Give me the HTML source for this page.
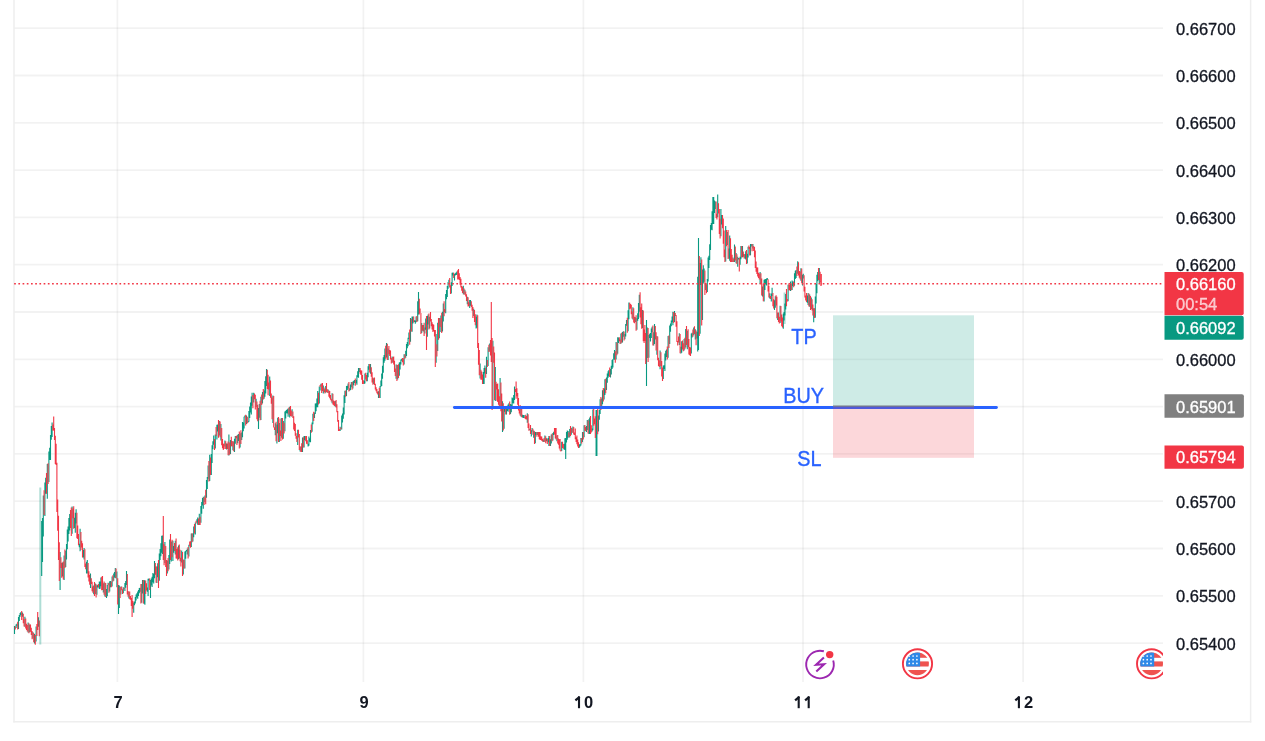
<!DOCTYPE html>
<html><head><meta charset="utf-8"><style>
html,body{margin:0;padding:0;background:#fff;width:1265px;height:741px;overflow:hidden;}
svg{position:absolute;left:0;top:0;display:block;will-change:transform;}
text{font-family:"Liberation Sans",sans-serif;}
</style></head><body>
<svg width="1265" height="741" viewBox="0 0 1265 741">
<g stroke="#000" stroke-opacity="0.052" stroke-width="1.8"><line x1="14" y1="28.20" x2="1163" y2="28.20"/><line x1="14" y1="75.50" x2="1163" y2="75.50"/><line x1="14" y1="122.80" x2="1163" y2="122.80"/><line x1="14" y1="170.10" x2="1163" y2="170.10"/><line x1="14" y1="217.40" x2="1163" y2="217.40"/><line x1="14" y1="264.70" x2="1163" y2="264.70"/><line x1="14" y1="312.00" x2="1163" y2="312.00"/><line x1="14" y1="359.30" x2="1163" y2="359.30"/><line x1="14" y1="406.60" x2="1163" y2="406.60"/><line x1="14" y1="453.90" x2="1163" y2="453.90"/><line x1="14" y1="501.20" x2="1163" y2="501.20"/><line x1="14" y1="548.50" x2="1163" y2="548.50"/><line x1="14" y1="595.80" x2="1163" y2="595.80"/><line x1="14" y1="643.10" x2="1163" y2="643.10"/><line x1="117.4" y1="0" x2="117.4" y2="682"/><line x1="363.4" y1="0" x2="363.4" y2="682"/><line x1="583.4" y1="0" x2="583.4" y2="682"/><line x1="803" y1="0" x2="803" y2="682"/><line x1="1023.1" y1="0" x2="1023.1" y2="682"/></g>
<g stroke="#EEEEEE" stroke-width="1.5"><line x1="14" y1="0" x2="14" y2="722.5"/><line x1="1250.6" y1="0" x2="1250.6" y2="722.5"/><line x1="13.3" y1="721.8" x2="1251.3" y2="721.8"/></g>
<g stroke-width="1.1" fill="none">
<path stroke="#089981" d="M14.50 626.0V634.0M16.10 624.6V628.0M16.90 623.7V625.8M18.50 617.0V629.0M19.30 615.0V621.0M20.10 613.0V616.8M20.90 612.0V615.1M22.50 612.5V616.7M24.90 616.8V626.7M28.10 622.6V632.6M29.70 624.4V632.3M32.90 631.9V638.5M34.50 634.0V643.5M36.10 626.4V641.5M38.50 617.3V626.8M41.70 521.0V576.0M42.50 518.0V562.0M43.30 495.6V536.4M44.90 482.4V516.0M45.70 477.7V493.7M47.30 464.0V498.8M48.90 451.4V481.9M49.70 447.8V460.1M50.50 434.9V460.0M51.30 426.0V439.8M52.10 422.4V436.9M60.10 552.0V590.0M62.50 562.5V576.6M64.10 555.5V579.9M65.70 550.7V567.0M66.50 544.1V559.6M67.30 529.6V549.2M68.10 526.5V541.4M68.90 518.0V534.0M69.70 514.0V530.5M72.10 506.6V533.8M74.50 517.7V528.0M75.30 512.7V532.8M76.10 509.2V523.5M79.30 543.8V547.2M80.10 528.8V551.2M83.30 550.0V557.5M84.10 548.0V559.5M86.50 561.8V573.4M87.30 560.1V573.4M90.50 573.4V588.0M93.70 585.4V594.2M95.30 583.6V594.0M96.90 585.6V594.7M97.70 584.8V587.4M99.30 581.6V589.0M100.10 581.4V588.7M100.90 577.6V586.3M103.30 583.2V592.4M104.90 582.8V596.4M106.50 589.0V598.0M107.30 584.9V596.2M108.10 582.8V585.3M109.70 581.2V591.6M110.50 580.9V587.3M112.10 576.4V586.4M113.70 573.6V580.8M114.50 572.1V577.4M115.30 568.0V578.1M116.90 571.4V587.2M118.50 585.0V614.0M119.30 585.4V607.9M120.90 586.6V594.4M123.30 587.2V593.2M124.90 583.0V590.9M125.70 580.9V587.7M126.50 571.0V584.9M128.90 591.8V598.4M133.70 602.6V612.8M134.50 601.5V605.2M135.30 596.9V603.5M136.10 594.4V600.6M136.90 593.2V597.6M137.70 591.6V598.7M138.50 590.0V595.9M139.30 588.0V593.3M140.10 587.8V591.8M141.70 584.0V602.8M142.50 580.0V593.6M144.10 580.0V603.8M144.90 580.4V604.8M147.30 587.5V591.8M148.10 578.8V596.1M148.90 578.4V580.5M150.50 580.0V598.0M151.30 578.4V585.5M152.10 576.8V587.0M152.90 573.0V582.3M153.70 573.7V583.6M154.50 561.0V578.3M156.90 566.4V582.9M157.70 563.2V577.2M159.30 553.6V580.8M160.10 549.1V560.1M160.90 543.2V556.2M161.70 535.8V552.7M162.50 535.6V554.1M164.90 542.0V563.1M167.30 560.4V573.6M168.90 554.9V569.5M169.70 539.6V564.0M171.30 541.4V561.6M172.90 540.7V561.0M173.70 546.0V552.7M175.30 540.7V554.6M178.50 545.6V559.3M181.70 550.4V562.6M183.30 559.5V574.6M184.90 551.6V568.4M185.70 550.8V558.7M186.50 550.0V551.5M187.30 548.4V554.4M188.90 544.8V556.6M191.30 533.6V547.0M192.90 533.4V541.4M193.70 526.4V537.3M195.30 522.4V534.4M196.90 519.2V522.5M197.70 517.6V524.8M199.30 513.8V524.9M200.90 506.0V522.7M201.70 502.0V513.8M202.50 498.0V505.6M203.30 496.8V508.8M204.90 495.5V501.9M206.50 480.0V497.8M207.30 476.9V489.1M208.10 465.6V478.7M209.70 454.8V481.0M211.30 453.9V474.9M212.10 445.2V463.0M212.90 441.2V449.2M213.70 435.6V444.7M215.30 434.5V448.4M216.90 424.8V439.4M217.70 424.5V431.4M219.30 421.1V435.4M220.90 424.0V440.4M224.90 440.4V446.5M226.50 443.5V449.5M228.90 434.4V455.6M230.50 439.9V454.0M232.90 441.2V450.2M234.50 438.7V452.0M235.30 436.0V443.7M237.70 434.8V443.2M238.50 434.0V440.9M240.10 433.3V447.5M241.70 432.6V440.0M242.50 422.1V437.3M243.30 422.5V431.3M244.10 416.8V428.4M244.90 415.6V417.2M246.50 415.5V424.0M248.10 420.9V422.4M248.90 410.9V421.8M249.70 406.6V417.9M250.50 402.5V412.5M251.30 396.4V414.6M252.10 392.8V405.8M253.70 392.8V402.6M256.10 398.8V406.9M258.50 408.0V429.0M259.30 404.0V417.7M260.90 396.8V420.0M262.50 392.0V403.6M264.10 390.4V398.8M264.90 381.1V396.8M265.70 376.3V393.5M266.50 369.0V386.1M269.70 376.4V396.0M272.90 395.6V423.1M275.30 423.2V435.3M276.90 424.6V443.6M277.70 417.7V433.2M279.30 422.9V442.0M281.70 418.0V437.8M283.30 421.0V438.7M284.90 411.6V431.2M285.70 410.8V418.4M286.50 410.0V413.2M287.30 409.2V413.4M288.10 408.4V416.7M289.70 406.8V417.4M292.10 409.2V416.5M297.70 429.8V445.0M300.10 446.6V451.6M302.50 437.4V452.0M304.10 436.0V447.6M304.90 436.0V439.9M308.10 443.8V446.4M308.90 436.4V445.7M309.70 438.2V441.7M310.50 430.0V442.2M312.10 422.6V431.8M312.90 413.8V424.2M314.50 412.5V418.0M315.30 403.4V413.9M316.10 403.2V411.2M316.90 398.4V407.2M317.70 390.9V407.2M319.30 386.4V403.6M320.90 383.8V390.4M323.30 385.5V393.4M325.70 386.0V392.8M328.10 389.5V393.0M332.10 393.2V403.2M335.30 400.9V406.8M340.10 426.8V431.0M341.70 415.5V429.5M342.50 413.5V422.6M343.30 407.4V418.8M344.10 395.2V414.4M344.90 390.8V403.1M346.50 386.0V396.0M347.30 385.8V390.1M348.10 383.4V388.5M349.70 388.3V390.8M350.50 384.4V390.0M351.30 382.1V387.3M352.90 381.6V388.6M353.70 380.8V385.2M354.50 380.0V383.0M356.10 380.0V383.3M356.90 375.2V384.8M357.70 371.2V377.3M358.50 368.0V377.8M359.30 368.0V371.9M364.10 380.8V384.0M364.90 373.6V383.4M367.30 372.7V381.3M368.10 366.2V377.2M368.90 364.0V369.8M370.50 364.0V373.8M373.70 378.3V384.0M378.50 391.2V398.0M380.10 386.0V398.0M380.90 380.6V386.8M381.70 373.6V386.0M382.50 365.8V378.7M383.30 357.2V372.7M384.10 354.9V362.7M384.90 348.6V360.7M386.50 343.0V357.6M388.10 348.4V360.0M392.10 356.6V362.7M396.10 364.4V378.7M397.70 365.1V379.6M399.30 362.4V375.8M400.10 361.9V369.4M400.90 359.6V364.6M401.70 358.8V360.7M404.10 354.3V364.4M405.70 350.7V357.7M406.50 344.0V356.0M407.30 341.9V348.3M408.10 337.7V346.2M408.90 332.5V339.1M410.50 318.0V341.7M412.10 316.4V331.8M412.90 316.4V323.5M414.50 320.2V321.9M415.30 320.4V323.7M416.10 316.5V322.2M417.70 301.2V321.2M418.50 292.0V314.4M421.70 323.0V332.9M423.30 324.9V331.4M424.90 327.5V333.6M425.70 318.4V329.7M427.30 316.1V336.8M428.10 314.4V324.6M429.70 316.7V328.5M436.10 333.9V362.8M437.70 322.8V351.1M439.30 318.0V338.3M440.90 315.6V332.0M442.50 311.8V331.6M443.30 303.6V321.4M445.70 294.0V313.2M446.50 290.0V299.3M447.30 286.0V297.1M448.10 282.0V288.8M448.90 279.8V282.3M451.30 282.3V293.6M452.10 272.8V286.1M452.90 272.4V275.5M454.50 274.0V280.5M455.30 273.2V275.6M456.10 272.4V274.9M456.90 271.4V274.7M463.30 285.8V294.3M464.90 289.8V294.5M467.30 296.8V304.2M469.70 299.9V307.9M470.50 300.0V305.7M473.70 308.7V315.9M476.10 316.8V328.4M476.90 314.4V327.8M480.10 363.6V378.4M483.30 371.9V384.0M484.10 368.1V384.0M484.90 365.6V373.5M486.50 356.7V373.9M488.10 347.2V366.0M489.70 343.6V351.5M492.90 340.8V408.0M495.30 367.0V401.1M500.10 377.9V406.0M502.50 401.2V432.0M504.10 406.6V428.8M504.90 406.4V411.8M506.50 406.0V414.5M507.30 405.7V411.1M508.10 404.4V411.7M508.90 403.2V409.2M510.50 404.1V413.9M511.30 404.4V412.2M512.10 397.4V408.4M512.90 398.3V403.3M513.70 395.1V403.6M514.50 386.5V400.0M520.90 407.3V416.4M522.50 414.8V417.5M523.30 415.1V418.0M524.10 415.0V418.0M527.30 413.2V422.7M529.70 428.7V430.3M531.30 430.3V436.4M532.10 427.9V431.6M533.70 430.4V437.7M535.30 432.0V443.2M536.10 432.1V435.1M537.70 432.0V435.1M543.30 439.6V442.0M544.90 435.4V441.8M546.50 438.2V441.3M548.10 438.1V442.2M548.90 436.0V446.0M550.50 439.2V446.0M551.30 434.4V443.6M552.90 433.1V440.5M553.70 431.7V435.1M556.90 435.6V441.2M561.70 441.7V450.9M564.10 443.7V449.6M564.90 438.3V450.0M565.70 438.0V459.0M566.50 432.0V442.4M567.30 430.4V439.8M568.10 430.9V437.8M569.70 429.0V437.6M571.30 427.8V434.8M572.90 426.4V432.8M579.30 444.2V447.8M580.10 444.2V446.4M580.90 438.1V445.4M582.50 431.9V442.0M584.10 425.2V437.3M586.50 426.1V432.0M587.30 420.0V430.0M588.90 419.2V434.0M589.70 417.6V434.0M592.10 428.5V431.6M592.90 409.6V430.3M596.10 410.0V456.0M596.90 410.0V456.0M598.50 415.4V431.5M599.30 410.1V419.8M600.10 399.2V414.1M601.70 398.4V408.4M602.50 390.2V404.2M604.10 388.5V399.6M604.90 379.2V395.0M606.50 377.6V390.0M607.30 373.6V382.8M608.10 371.2V377.8M608.90 370.0V376.3M610.50 369.1V377.4M611.30 365.7V374.6M612.10 360.1V369.1M612.90 359.0V367.4M613.70 353.2V359.6M614.50 350.0V359.8M616.10 342.0V359.6M617.70 337.3V353.8M618.50 337.6V343.0M620.90 333.6V343.7M622.50 332.0V342.6M623.30 331.2V336.8M624.90 333.9V339.2M625.70 324.0V336.6M626.50 320.0V325.7M628.10 310.3V331.3M628.90 302.4V319.3M632.90 307.2V319.6M635.30 317.3V322.0M636.90 318.3V329.7M637.70 313.2V320.7M638.50 302.9V318.9M639.30 294.8V311.7M642.50 310.0V327.9M646.50 320.0V386.0M647.30 327.5V358.1M648.90 335.1V357.7M649.70 333.8V338.0M650.50 332.9V341.6M651.30 328.4V338.1M652.10 326.8V332.3M653.70 332.3V345.5M654.50 324.0V344.0M656.90 336.0V354.8M660.10 350.4V369.2M663.30 365.4V379.0M664.10 365.3V368.9M664.90 353.6V370.9M665.70 350.8V360.5M666.50 349.6V357.0M668.10 336.1V357.8M669.70 325.6V344.0M670.50 323.6V331.7M671.30 320.4V326.2M672.10 316.4V322.3M672.90 311.8V325.2M674.50 311.0V322.0M679.30 333.2V344.9M680.90 346.8V353.6M681.70 341.3V352.8M684.10 338.9V350.4M685.70 329.0V347.6M687.30 330.7V349.2M691.30 333.6V353.6M692.10 332.7V337.5M693.70 327.6V335.3M695.30 329.2V339.6M696.90 332.1V338.6M697.70 276.8V351.6M698.50 238.0V350.0M700.10 262.9V333.7M700.90 257.2V285.0M702.50 269.5V320.0M703.30 265.2V283.4M704.10 268.4V281.7M705.70 283.0V290.1M707.30 278.9V292.0M708.10 257.5V281.6M708.90 255.7V268.0M709.70 244.3V260.1M710.50 225.0V250.0M711.30 222.9V229.8M712.10 211.2V230.3M712.90 197.0V224.0M713.70 197.0V224.0M714.50 200.5V212.9M715.30 201.5V209.0M717.70 194.4V217.2M720.90 209.0V236.2M721.70 215.0V224.4M725.70 226.0V261.4M727.30 231.9V245.0M728.90 248.5V258.6M729.70 235.4V260.8M732.90 257.5V262.0M734.50 244.5V262.0M736.10 253.1V263.3M737.70 256.8V266.8M738.50 258.0V259.5M740.10 256.7V264.8M740.90 246.0V259.2M742.50 246.0V257.2M744.90 254.2V258.5M745.70 251.2V259.4M747.30 253.8V263.6M748.10 246.8V257.6M750.50 244.0V255.3M751.30 244.0V246.6M752.90 244.0V248.4M760.10 271.9V284.0M762.50 286.5V296.4M764.10 279.7V301.4M764.90 279.3V290.0M765.70 278.9V284.2M766.50 278.5V285.5M767.30 278.1V280.1M769.70 293.2V298.4M771.30 293.4V301.4M772.10 287.7V295.9M774.50 300.2V309.9M775.30 296.2V307.7M777.70 312.6V319.9M780.10 305.8V323.1M783.30 313.6V328.7M784.10 312.0V320.5M784.90 303.6V315.6M785.70 294.0V309.4M788.10 284.8V301.3M790.50 281.6V291.0M792.10 280.5V289.9M792.90 281.6V286.1M794.50 273.2V285.8M795.30 270.8V279.1M796.10 270.1V278.0M797.70 261.3V273.7M800.90 268.2V280.8M802.50 274.8V285.4M803.30 273.8V278.6M807.30 295.4V302.8M808.10 293.0V304.9M809.70 294.4V306.8M811.30 297.6V309.0M813.70 308.3V322.3M815.30 296.6V317.7M816.10 284.0V303.5M816.90 274.8V293.2M817.70 272.0V281.3M819.30 268.0V283.6"/>
<path stroke="#F23645" d="M15.30 626.4V629.4M17.70 621.8V629.6M21.70 611.0V620.0M23.30 613.7V623.3M24.10 619.3V626.6M25.70 618.4V628.4M26.50 623.7V630.0M27.30 625.0V631.6M28.90 623.2V633.2M30.50 624.6V631.8M31.30 627.8V634.9M32.10 631.0V639.2M33.70 633.0V642.3M35.30 635.1V644.7M36.90 623.9V636.0M37.70 612.0V630.0M39.30 620.5V636.3M44.10 490.3V515.0M46.50 473.1V493.8M48.10 463.2V484.1M52.90 424.6V430.8M53.70 416.4V430.5M54.50 428.0V440.0M55.30 435.8V464.0M56.10 443.7V464.9M56.90 462.8V512.0M57.70 499.6V530.7M58.50 515.7V560.0M59.30 542.3V581.0M60.90 557.3V567.9M61.70 562.7V577.8M63.30 561.6V579.4M64.90 549.5V567.9M70.50 510.0V527.9M71.30 507.6V536.0M72.90 508.6V518.2M73.70 506.3V528.8M76.90 512.8V538.3M77.70 525.4V539.1M78.50 534.0V545.2M80.90 532.0V550.1M81.70 540.8V547.5M82.50 543.3V557.5M84.90 549.2V567.1M85.70 563.5V569.3M88.10 563.1V577.5M88.90 571.2V581.6M89.70 575.0V584.8M91.30 578.2V584.1M92.10 581.7V591.2M92.90 586.4V592.8M94.50 582.0V595.9M96.10 584.2V597.6M98.50 584.0V587.4M101.70 576.8V590.3M102.50 576.0V590.0M104.10 581.4V594.8M105.70 583.0V597.1M108.90 583.0V592.8M111.30 581.5V587.2M112.90 575.2V581.5M116.10 568.5V578.5M117.70 578.2V604.4M120.10 587.0V598.0M121.70 586.6V590.2M122.50 589.2V594.0M124.10 587.8V589.3M127.30 574.1V594.4M128.10 590.9V596.8M129.70 591.6V599.2M130.50 595.9V599.8M131.30 597.9V605.9M132.10 595.0V617.0M132.90 600.9V608.8M140.90 584.0V603.6M143.30 580.0V603.6M145.70 580.4V594.1M146.50 583.3V590.6M149.70 578.5V590.1M155.30 563.1V574.7M156.10 566.6V582.8M158.50 560.0V588.0M163.30 516.0V560.0M164.10 544.3V565.2M165.70 546.0V566.9M166.50 559.9V576.0M168.10 558.1V571.2M170.50 534.0V560.0M172.10 539.8V557.3M174.50 543.1V550.9M176.10 538.4V558.4M176.90 548.9V558.8M177.70 547.2V560.4M179.30 544.4V558.5M180.10 549.7V561.3M180.90 557.7V566.6M182.50 552.0V576.0M184.10 560.0V568.5M188.10 546.9V558.4M189.70 541.5V546.2M190.50 541.2V547.7M192.10 533.3V542.2M194.50 524.0V533.4M196.10 520.8V523.5M198.50 518.5V525.1M200.10 516.8V525.0M204.10 497.2V505.1M205.70 489.7V504.2M208.90 461.1V481.5M210.50 457.4V475.0M214.50 439.0V450.0M216.10 427.1V436.1M218.50 420.0V437.8M220.10 421.6V437.2M221.70 428.0V445.2M222.50 438.9V448.3M223.30 443.8V450.1M224.10 443.6V449.0M225.70 441.3V449.1M227.30 443.5V448.9M228.10 441.6V455.2M229.70 442.6V454.8M231.30 436.8V446.3M232.10 441.1V446.5M233.70 441.4V451.2M236.10 436.0V438.3M236.90 435.6V444.9M239.30 431.6V448.4M240.90 430.3V444.0M245.70 414.8V425.6M247.30 416.7V423.2M252.90 395.0V408.3M254.50 393.4V399.3M255.30 394.8V409.6M256.90 401.6V419.3M257.70 404.8V421.3M260.10 400.7V420.2M261.70 394.4V405.1M263.30 389.1V399.5M267.30 369.8V389.1M268.10 374.8V395.2M268.90 382.4V389.5M270.50 380.5V397.8M271.30 393.6V403.7M272.10 397.6V419.2M273.70 396.0V427.6M274.50 427.3V430.0M276.10 421.8V441.2M278.50 417.0V442.0M280.10 418.4V435.9M280.90 430.4V441.0M282.50 418.0V439.6M284.10 422.8V433.5M288.90 407.6V414.4M290.50 406.0V416.1M291.30 410.6V416.6M292.90 411.5V418.1M293.70 416.3V429.6M294.50 422.8V431.0M295.30 424.0V435.8M296.10 433.3V438.8M296.90 435.9V442.0M298.50 429.8V437.5M299.30 434.0V449.9M300.90 446.5V452.0M301.70 443.2V452.0M303.30 437.2V447.6M305.70 436.0V441.3M306.50 436.0V443.8M307.30 440.3V444.3M311.30 424.4V432.8M313.70 411.8V421.0M318.50 392.8V404.4M320.10 385.1V386.8M321.70 383.4V392.9M322.50 383.0V390.9M324.10 387.5V392.0M324.90 389.2V393.6M326.50 383.0V392.0M327.30 389.3V392.8M328.90 390.6V396.8M329.70 391.0V398.3M330.50 395.0V399.7M331.30 398.7V401.6M332.90 393.8V404.4M333.70 400.6V405.2M334.50 401.3V406.0M336.10 400.1V407.6M336.90 404.2V412.2M337.70 411.1V421.8M338.50 420.0V431.0M339.30 429.1V431.0M340.90 427.5V429.6M345.70 390.6V396.8M348.90 382.0V391.6M352.10 382.1V389.7M355.30 378.4V385.8M360.10 368.0V373.8M360.90 370.3V375.1M361.70 370.5V379.8M362.50 374.9V384.0M363.30 380.2V384.0M365.70 372.8V379.6M366.50 375.0V381.3M369.70 364.0V372.6M371.30 367.2V376.7M372.10 372.2V382.4M372.90 377.4V384.8M374.50 377.6V385.1M375.30 383.7V389.6M376.10 387.2V391.2M376.90 389.1V393.2M377.70 391.4V394.6M379.30 387.7V398.0M385.70 345.8V358.7M387.30 343.8V360.0M388.90 346.0V354.2M389.70 350.1V356.1M390.50 350.6V359.4M391.30 358.0V363.6M392.90 356.9V362.4M393.70 356.6V364.4M394.50 360.8V372.0M395.30 368.5V376.0M396.90 364.7V381.1M398.50 364.3V378.0M402.50 358.0V362.2M403.30 358.2V365.6M404.90 354.3V358.8M409.70 329.4V344.8M411.30 318.7V331.6M413.70 316.6V322.5M416.90 316.1V322.1M419.30 298.8V314.5M420.10 308.5V313.1M420.90 313.0V334.0M422.50 325.1V330.8M424.10 322.7V336.0M426.50 316.0V350.0M428.90 313.6V329.6M430.50 312.0V321.6M431.30 319.0V326.2M432.10 322.3V329.6M432.90 323.9V332.0M433.70 324.7V331.2M434.50 330.0V336.5M435.30 330.0V367.0M436.90 344.3V356.4M438.50 318.0V339.8M440.10 318.0V327.0M441.70 312.8V332.9M444.10 301.2V316.3M444.90 309.1V312.3M449.70 278.0V287.6M450.50 285.3V294.0M453.70 272.7V277.9M457.70 270.2V279.5M458.50 269.0V279.3M459.30 273.2V279.9M460.10 277.0V284.8M460.90 278.8V287.6M461.70 286.0V290.8M462.50 286.7V293.0M464.10 288.4V294.8M465.70 291.6V296.4M466.50 294.3V301.1M468.10 297.2V306.6M468.90 302.3V306.2M471.30 301.2V307.0M472.10 304.8V310.7M472.90 306.9V317.9M474.50 310.0V322.0M475.30 314.3V325.2M477.70 315.2V348.0M478.50 343.1V364.7M479.30 350.1V375.2M480.90 369.8V379.8M481.70 371.5V379.8M482.50 374.4V384.0M485.70 367.8V377.7M487.30 360.0V367.0M488.90 344.7V352.1M490.50 340.0V355.6M491.30 302.0V362.0M492.10 338.0V410.0M493.70 346.4V362.7M494.50 352.5V400.0M496.10 381.8V389.5M496.90 384.0V400.8M497.70 383.6V401.9M498.50 389.2V404.7M499.30 396.2V406.0M500.90 382.4V411.2M501.70 393.5V421.6M503.30 403.2V430.4M505.70 406.0V414.6M509.70 401.6V414.8M515.30 388.9V392.0M516.10 381.6V398.7M516.90 388.2V396.3M517.70 392.9V404.7M518.50 398.0V410.6M519.30 409.3V413.5M520.10 405.0V415.6M521.70 408.8V417.2M524.90 416.8V418.4M525.70 414.7V419.2M526.50 415.9V419.4M528.10 414.3V428.0M528.90 423.5V430.8M530.50 424.9V434.0M532.90 428.8V434.8M534.50 431.3V444.0M536.90 432.0V436.8M538.50 432.0V436.7M539.30 432.0V439.2M540.10 432.0V440.0M540.90 436.2V439.9M541.70 436.5V440.8M542.50 438.7V441.5M544.10 438.0V442.0M545.70 436.2V443.2M547.30 438.9V444.1M549.70 436.0V446.0M552.10 433.7V441.2M554.50 428.0V434.4M555.30 428.0V438.5M556.10 428.0V439.6M557.70 435.0V443.6M558.50 438.6V444.7M559.30 439.3V448.4M560.10 438.9V450.6M560.90 450.1V451.6M562.50 441.8V448.0M563.30 443.9V448.8M568.90 432.3V437.3M570.50 426.1V436.0M572.10 428.5V432.8M573.70 427.1V434.4M574.50 432.5V435.0M575.30 428.4V439.2M576.10 437.3V441.9M576.90 435.5V444.2M577.70 439.6V446.4M578.50 442.2V448.0M581.70 438.1V443.6M583.30 431.9V439.6M584.90 425.1V430.8M585.70 426.9V431.2M588.10 420.6V433.6M590.50 416.0V434.0M591.30 425.2V432.4M593.70 408.8V425.8M594.50 418.4V424.3M595.30 416.3V438.0M597.70 406.4V434.2M600.90 397.1V410.1M603.30 387.9V401.6M605.70 378.8V393.2M609.70 367.6V377.0M615.30 351.2V362.8M616.90 342.6V355.2M619.30 337.3V341.3M620.10 339.5V344.0M621.70 332.8V342.8M624.10 331.5V340.4M627.30 317.8V332.8M629.70 302.8V309.3M630.50 304.0V308.6M631.30 304.8V314.2M632.10 311.4V318.4M633.70 308.3V322.4M634.50 316.7V323.2M636.10 315.2V330.8M640.10 292.3V317.5M640.90 307.2V324.2M641.70 303.6V328.8M643.30 310.4V341.2M644.10 329.6V342.9M644.90 325.0V340.9M645.70 332.9V364.1M648.10 328.0V362.0M652.90 325.6V345.6M655.30 325.9V339.5M656.10 332.2V350.4M657.70 336.6V360.2M658.50 357.7V366.0M659.30 360.2V367.1M660.90 352.2V366.0M661.70 361.1V376.6M662.50 367.5V381.0M667.30 346.4V359.6M668.90 335.4V348.0M673.70 312.0V323.1M675.30 313.0V315.9M676.10 315.1V326.8M676.90 321.2V342.0M677.70 340.9V345.5M678.50 336.4V342.4M680.10 334.1V353.2M682.50 340.6V349.4M683.30 343.3V351.2M684.90 337.8V349.2M686.50 326.0V345.1M688.10 329.2V347.3M688.90 339.0V354.4M689.70 347.0V355.2M690.50 347.5V356.0M692.90 329.6V336.8M694.50 326.3V334.1M696.10 330.5V345.3M699.30 256.0V336.0M701.70 259.6V325.6M704.90 270.4V294.9M706.50 284.3V293.2M716.10 201.6V217.9M716.90 213.8V219.6M718.50 203.3V213.5M719.30 208.9V234.0M720.10 218.8V238.6M722.50 215.0V228.2M723.30 218.5V243.7M724.10 230.6V257.2M724.90 249.5V262.0M726.50 230.0V246.3M728.10 230.0V259.0M730.50 238.2V262.0M731.30 249.1V262.0M732.10 254.7V262.0M733.70 258.5V261.9M735.30 246.5V260.5M736.90 254.2V264.0M739.30 258.0V271.6M741.70 246.0V257.6M743.30 251.4V256.7M744.10 253.9V258.4M746.50 250.0V264.0M748.90 245.6V249.0M749.70 247.0V255.4M752.10 244.0V251.2M753.70 245.9V251.0M754.50 247.0V257.3M755.30 250.4V268.0M756.10 261.5V271.8M756.90 267.3V274.1M757.70 267.4V276.4M758.50 272.8V278.0M759.30 273.4V279.6M760.90 273.3V283.8M761.70 278.4V295.4M763.30 283.5V301.3M768.10 279.2V291.5M768.90 285.8V297.4M770.50 296.0V299.0M772.90 292.9V306.2M773.70 299.2V308.6M776.10 295.2V305.6M776.90 296.8V318.2M778.50 312.6V322.0M779.30 316.8V323.6M780.90 305.9V321.6M781.70 314.4V326.3M782.50 317.6V327.5M786.50 289.0V306.3M787.30 299.1V301.4M788.90 283.2V290.4M789.70 284.8V290.2M791.30 283.5V290.2M793.70 281.5V287.2M796.90 266.6V275.9M798.50 262.3V275.5M799.30 271.0V277.8M800.10 271.4V279.2M801.70 268.6V283.0M804.10 275.3V291.6M804.90 286.7V297.6M805.70 295.6V300.6M806.50 293.0V302.0M808.90 293.4V306.4M810.50 296.0V310.0M812.10 299.2V310.4M812.90 304.4V315.5M814.50 308.2V318.1M818.50 268.0V280.1M820.10 271.8V282.2M820.90 281.4V286.0M821.3 274V285.5"/>
<path stroke="#089981" stroke-opacity="0.33" stroke-width="2" d="M40.3 487.5V644.5M784.6 292.5V324"/>
</g>
<line x1="14.15" y1="283.75" x2="1163" y2="283.75" stroke="#F23645" stroke-width="1.7" stroke-dasharray="1.7 2.5114"/>
<line x1="454.4" y1="407.5" x2="996.4" y2="407.5" stroke="#2962FF" stroke-width="2.9" stroke-linecap="round"/>
<rect x="833" y="315.3" width="141" height="90.8" fill="#089981" fill-opacity="0.2"/>
<rect x="833" y="406.1" width="141" height="51.7" fill="#F23645" fill-opacity="0.2"/>
<line x1="833" y1="406.1" x2="974" y2="406.1" stroke="#787B86" stroke-width="1.4"/>
<g fill="#2962FF" stroke="#2962FF" stroke-width="0.35" font-size="22.8"><text transform="translate(791.3 343.7) scale(0.87 1)">TP</text><text transform="translate(783.3 402.7) scale(0.87 1)">BUY</text><text transform="translate(797.3 465.9) scale(0.87 1)">SL</text></g>
<g fill="#131722" stroke="#131722" stroke-width="0.3" font-size="16.5"><text x="1176" y="34.7">0.66700</text><text x="1176" y="82.0">0.66600</text><text x="1176" y="129.3">0.66500</text><text x="1176" y="176.6">0.66400</text><text x="1176" y="223.9">0.66300</text><text x="1176" y="271.2">0.66200</text><text x="1176" y="365.8">0.66000</text><text x="1176" y="507.7">0.65700</text><text x="1176" y="555.0">0.65600</text><text x="1176" y="602.3">0.65500</text><text x="1176" y="649.6">0.65400</text></g>
<path d="M1164.5 272H1241.7Q1243.7 272 1243.7 274V313.3Q1243.7 315.3 1241.7 315.3H1164.5Z" fill="#F23645"/>
<path d="M1164.5 315.8H1241.7Q1243.7 315.8 1243.7 317.8V337.8Q1243.7 339.8 1241.7 339.8H1164.5Z" fill="#089981"/>
<path d="M1164.5 394.2H1241.9Q1243.9 394.2 1243.9 396.2V415.8Q1243.9 417.8 1241.9 417.8H1164.5Z" fill="#808080"/>
<path d="M1164.5 445.4H1241.9Q1243.9 445.4 1243.9 447.4V466.7Q1243.9 468.7 1241.9 468.7H1164.5Z" fill="#F23645"/>
<g fill="#fff" stroke="#fff" stroke-width="0.3" font-size="16.5"><text x="1176" y="290">0.66160</text><text x="1176" y="333.8" >0.66092</text><text x="1176" y="412.6">0.65901</text><text x="1176" y="463.4">0.65794</text></g>
<text x="1176" y="310.2" fill="#fff" fill-opacity="0.7" stroke="#fff" stroke-opacity="0.7" stroke-width="0.3" font-size="16.5">00:54</text>
<g fill="#131722" font-size="16.5" font-weight="bold" text-anchor="middle"><text x="118" y="708.2">7</text><text x="364.1" y="708.2">9</text><text x="588.6" y="708.2">0</text><text x="1028.5" y="708.2">2</text></g>
<g stroke="#131722" stroke-width="2.1" fill="none"><path d="M579.0 696.4V708.2"/><path d="M579.6 696.8L575.4 700.4" stroke-width="2.2"/><path d="M798.7 696.4V708.2"/><path d="M799.3 696.8L795.1 700.4" stroke-width="2.2"/><path d="M808.7 696.4V708.2"/><path d="M809.3 696.8L805.1 700.4" stroke-width="2.2"/><path d="M1018.9 696.4V708.2"/><path d="M1019.5 696.8L1015.3 700.4" stroke-width="2.2"/></g>

<g transform="translate(820,664.5)">
<circle r="13.8" fill="none" stroke="#9C27B0" stroke-width="1.9" stroke-dasharray="72.6 14.1" transform="rotate(-17)"/>
<path d="M3.9 -6.9L-3.9 0.3L4.1 -0.3L-3.7 7" fill="none" stroke="#9C27B0" stroke-width="2.1" stroke-miterlimit="6"/>
<circle cx="9.7" cy="-9.9" r="3.7" fill="#F23645"/>
</g>
<defs><clipPath id="fc"><circle r="11.4"/></clipPath><clipPath id="pane"><rect x="14" y="0" width="1149" height="721"/></clipPath></defs>
<g id="flag" transform="translate(917.5,663.8)">
<circle r="14.6" fill="#fff" stroke="#F23645" stroke-width="1.9"/>
<g clip-path="url(#fc)">
<rect x="-12" y="-12" width="24" height="24" fill="#fff"/>
<rect x="-12" y="-12" width="24" height="6" fill="#EF5350"/>
<rect x="-12" y="-2.4" width="24" height="5.1" fill="#EF5350"/>
<rect x="-12" y="6.2" width="24" height="6" fill="#EF5350"/>
<rect x="-12" y="-12" width="14.6" height="14.7" fill="#2E89E8"/>
<g fill="#fff"><circle cx="-8.2" cy="-7.8" r="0.85"/><circle cx="-4.4" cy="-7.8" r="0.85"/><circle cx="-0.6" cy="-7.8" r="0.85"/><circle cx="-8.2" cy="-4.1" r="0.85"/><circle cx="-4.4" cy="-4.1" r="0.85"/><circle cx="-0.6" cy="-4.1" r="0.85"/><circle cx="-8.2" cy="-0.4" r="0.85"/><circle cx="-4.4" cy="-0.4" r="0.85"/><circle cx="-0.6" cy="-0.4" r="0.85"/></g>
</g>
</g>
<g clip-path="url(#pane)"><use href="#flag" transform="translate(234.1,0)"/></g>

</svg>
</body></html>
